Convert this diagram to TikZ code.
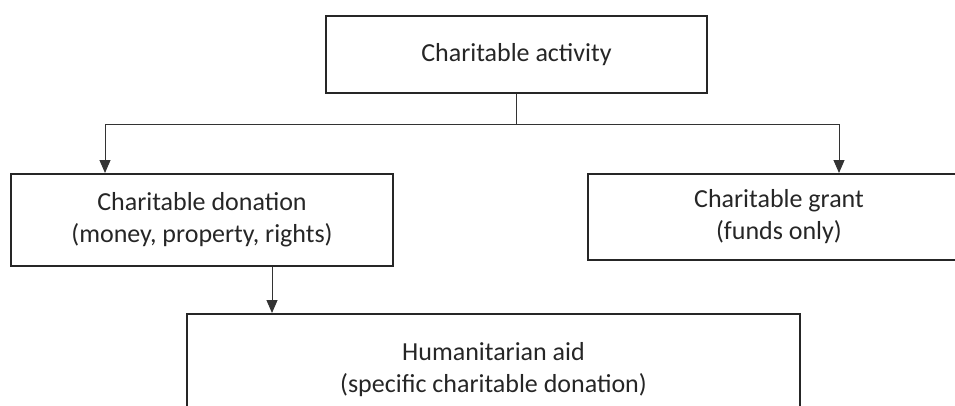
\documentclass[tikz,border=0pt]{standalone}
\usepackage{fontspec}
\setmainfont{Carlito}
\usetikzlibrary{arrows.meta}
\colorlet{box edge}{black!85}
\colorlet{box text}{black!85}
\tikzstyle{block} = [draw=box edge, line width=2pt, rectangle, align=center, text=box text, font=\fontsize{26}{32}\selectfont, inner sep=0pt]
\tikzstyle{link} = [draw=black!80, line width=1pt]
\tikzstyle{drop} = [link, -{Triangle[width=11pt,length=13pt]}]

\begin{document}
\begin{tikzpicture}[x=1pt,y=-1pt]

  % The page, the right and lower boxes run off it
  \useasboundingbox (0,0) rectangle (955,405);
  \clip (0,0) rectangle (955,405);

  % The boxes
  \node[block, minimum width=381pt, minimum height=77pt] (activity) at (516.5,54.5) {Charitable activity};
  \node[block, minimum width=382pt, minimum height=92pt] (donation) at (202,220) {Charitable donation\\(money, property, rights)};
  \node[block, minimum width=382pt, minimum height=86pt] (grant) at (779,217) {Charitable grant\\(funds only)};
  \node[block, minimum width=613pt, minimum height=112pt] (aid) at (493.5,370) {Humanitarian aid\\(specific charitable donation)};

  % The connections between them
  \draw[link] (activity.south) -- ++(0,30) coordinate (fork);
  \draw[drop] (fork) -| ([xshift=-97pt]donation.north);
  \draw[drop] (fork) -| ([xshift=60pt]grant.north);
  \draw[drop] ([xshift=70pt]donation.south) -- ([xshift=70pt]donation.south |- aid.north);
\end{tikzpicture}
\end{document}
